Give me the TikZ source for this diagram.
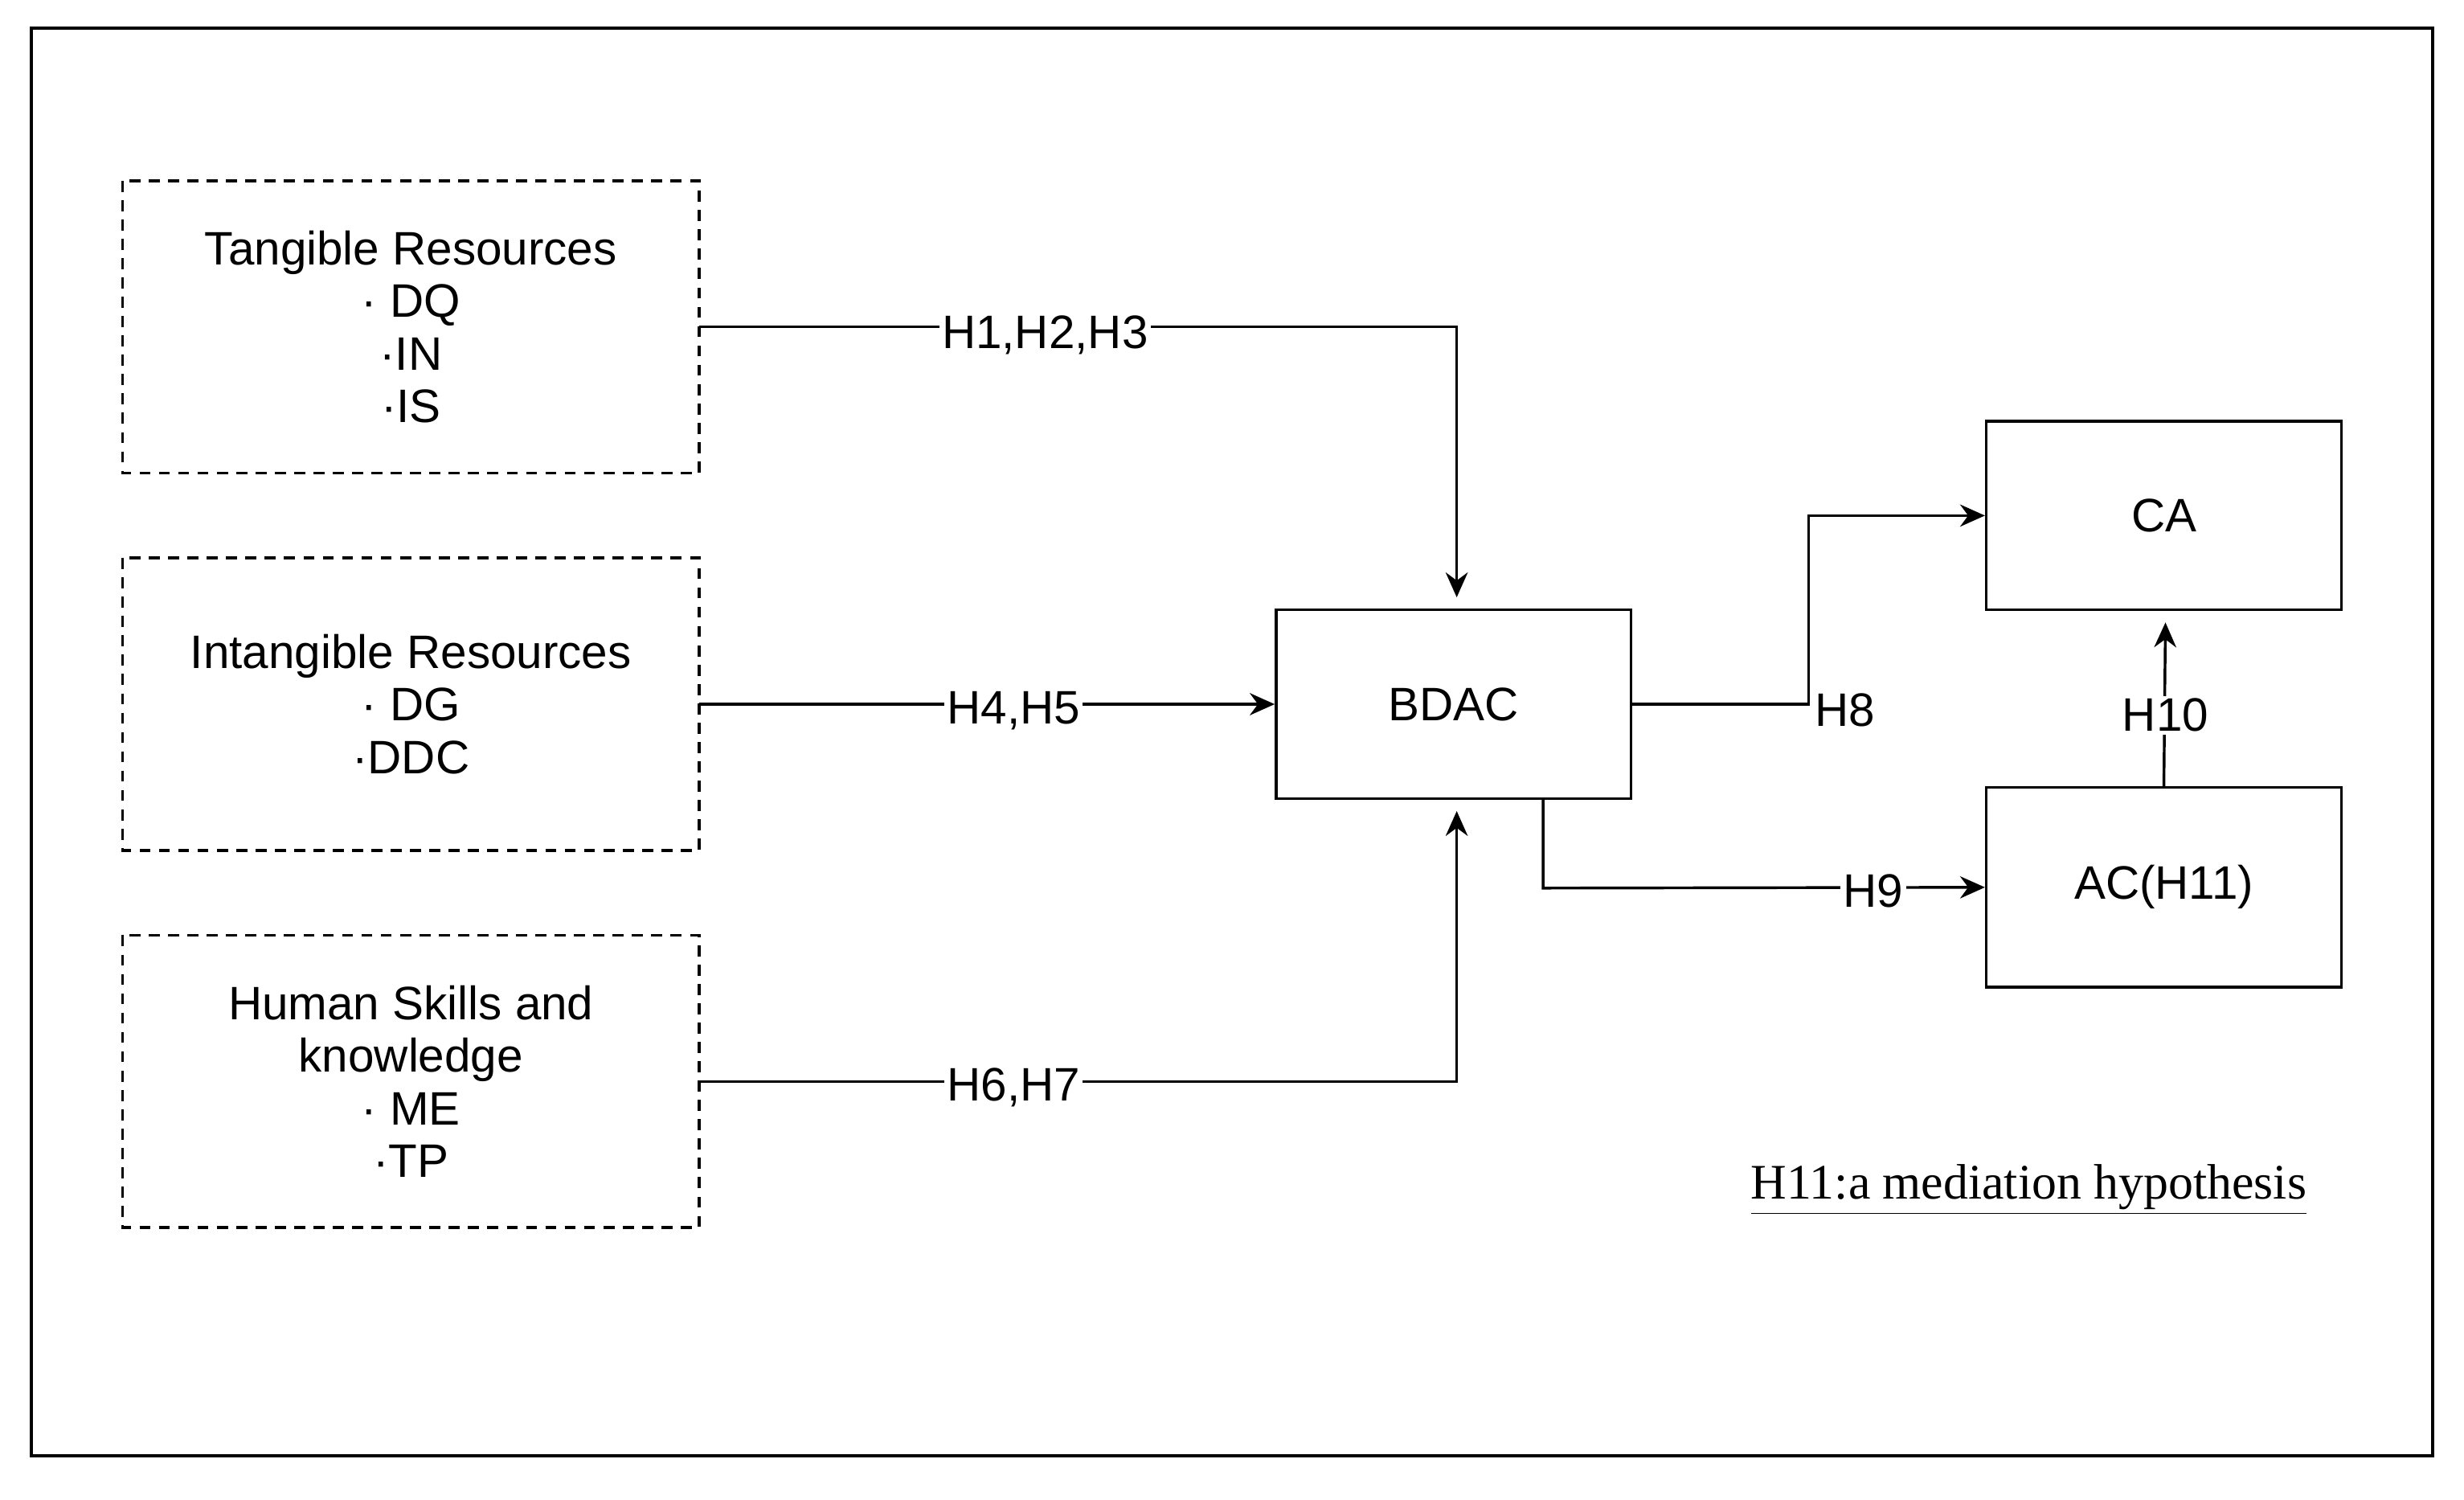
\documentclass[tikz,border=0pt]{standalone}
\usepackage{fontspec}
\setmainfont{Liberation Sans}
\newfontfamily\serifnote{Liberation Serif}
\usetikzlibrary{arrows.meta}
\begin{document}
\begin{tikzpicture}[x=0.02cm,y=-0.02cm,
  font=\fontsize{17}{21}\selectfont,
  res/.style={draw,dashed,line width=1pt,dash pattern=on 4pt off 3pt},
  box/.style={draw,line width=1pt},
  link/.style={line width=1pt,-{Stealth[length=9pt,width=8pt]}},
  lab/.style={fill=white,inner sep=1pt}]
  \useasboundingbox (0,0) rectangle (1568,954);
  \draw[line width=1.2pt] (20,18) rectangle (1548,926);

  % resource groups
  \draw[res] (78,115) rectangle (445,301);
  \node[align=center] (tr) at (261.5,208) {Tangible Resources\\[-2pt]· DQ\\[-2pt]·IN\\[-2pt]·IS};
  \draw[res] (78,355) rectangle (445,541);
  \node[align=center] (ir) at (261.5,448) {Intangible Resources\\[-2pt]· DG\\[-2pt]·DDC};
  \draw[res] (78,595) rectangle (445,781);
  \node[align=center] (hs) at (261.5,688) {Human Skills and\\[-2pt]knowledge\\[-2pt]· ME\\[-2pt]·TP};
  \coordinate (trE) at (445,208);
  \coordinate (irE) at (445,448);
  \coordinate (hsE) at (445,688);

  % constructs
  \node[box,minimum width=4.52cm,minimum height=2.4cm] (bdac) at (925,448) {BDAC};
  \node[box,minimum width=4.52cm,minimum height=2.4cm] (ca) at (1377,328) {CA};
  \node[box,minimum width=4.52cm,minimum height=2.54cm] (ac) at (1377,564.5) {AC(H11)};

  % paths
  \draw[link] (trE) -- (927,208) -- (927,380);
  \node[lab] (h1) at (665,213) {H1,H2,H3};
  \draw[link] (irE) -- (bdac.west);
  \node[lab] (h4) at (645,452) {H4,H5};
  \draw[link] (hsE) -- (927,688) -- (927,516);
  \node[lab] (h6) at (645,692) {H6,H7};
  \draw[link] (bdac.east) -- (1151,448) -- (1151,328) -- (ca.west);
  \node[lab,fill=none] (h8) at (1174,452) {H8};
  \draw[link] (982,508) -- (982,565) -- (ac.west);
  \node[lab] (h9) at (1192,567) {H9};
  \draw[link] (ac.north) -- (1378,396);
  \node[lab] (h10) at (1378,455) {H10};

  \node (note) at (1291,757) {\serifnote\fontsize{18}{22}\selectfont\underline{H11:a mediation hypothesis}};
\end{tikzpicture}
\end{document}
